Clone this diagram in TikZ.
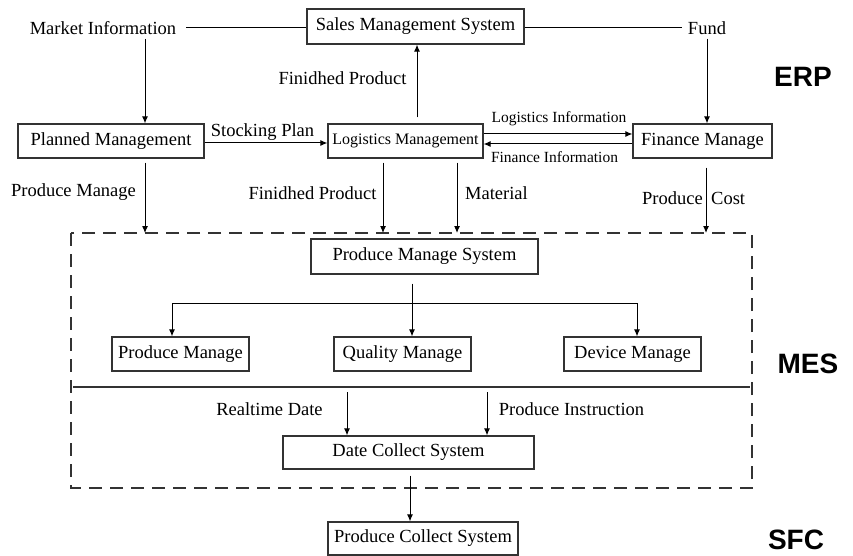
\documentclass[tikz,border=0pt]{standalone}
\usepackage{fontspec}
\setmainfont{Liberation Serif}
\newfontfamily\labsans{Liberation Sans}
\usetikzlibrary{arrows.meta}
\begin{document}
\begin{tikzpicture}[x=1pt,y=-1pt,
  box/.style={draw=black!80,line width=1.2pt,minimum height=34pt,inner sep=0pt,font=\fontsize{18.5}{22}\selectfont},
  lab/.style={inner sep=0pt,font=\fontsize{18.5}{22}\selectfont},
  slab/.style={inner sep=0pt,font=\fontsize{15.5}{18}\selectfont},
  layer/.style={inner sep=0pt,font=\labsans\bfseries\fontsize{28}{32}\selectfont},
  arr/.style={line width=1pt,-{Latex[length=7pt,width=6pt]}},
  ln/.style={line width=1pt},
  mesbox/.style={line width=1.2pt,draw=black!80,dash pattern=on 13pt off 8pt}]
\useasboundingbox (0,0) rectangle (853,556);

% ERP
\node[box,minimum width=217pt,minimum height=35pt] (sales) at (415.5,26.5) {Sales Management System};
\node[lab] (market) at (103,28) {Market Information};
\node[lab] (fund) at (707,28) {Fund};
\node[box,minimum width=186pt] (planned) at (111,141) {Planned Management};
\node[box,minimum width=155pt,font=\fontsize{16}{19}\selectfont] (logis) at (405.5,141) {Logistics Management};
\node[box,minimum width=139pt] (finance) at (702.5,141) {Finance Manage};

\draw[ln] ([xshift=10pt]market.east) -- (sales.west |- market.east);
\draw[ln] (sales.east |- fund.west) -- ([xshift=-6pt]fund.west);
\draw[arr] ([xshift=34pt,yshift=-4pt]planned.north |- market.south) -- ([xshift=34pt]planned.north);
\draw[arr] ([yshift=-4pt]fund.south) -- (fund.south |- finance.north);

\draw[arr] ([xshift=11.5pt,yshift=6pt]logis.north) -- ([xshift=11.5pt]logis.north |- sales.south);
\node[lab] (fp1) at (342.5,78) {Finidhed Product};

\draw[arr] ([yshift=-2pt]planned.east) -- ([yshift=-2pt]planned.east -| logis.west);
\node[lab] (stock) at (262.5,132) {Stocking Plan};

\draw[arr] ([yshift=7pt]logis.east) -- ([yshift=7pt]logis.east -| finance.west);
\draw[arr] ([yshift=-3pt]finance.west) -- ([yshift=-3pt]finance.west -| logis.east);
\node[slab] (li) at (559,119) {Logistics Information};
\node[slab] (fi) at (554.5,157) {Finance Information};

\node[layer] (erp) at (803,77) {ERP};

% MES frame
\coordinate (mtl) at (71,233);
\coordinate (mbr) at (752,488);
\draw[mesbox] (mtl) rectangle (mbr);
\coordinate (dl) at (73,387);
\coordinate (dr) at (750,387);
\draw[line width=1.2pt,draw=black!80] (dl) -- (dr);

\draw[arr] ([xshift=34pt,yshift=-4pt]planned.south) -- ([xshift=34pt]planned.south |- mtl);
\draw[arr] ([xshift=-22.5pt,yshift=-4pt]logis.south) -- ([xshift=-22.5pt]logis.south |- mtl);
\draw[arr] ([xshift=51.5pt,yshift=-4pt]logis.south) -- ([xshift=51.5pt]logis.south |- mtl);
\draw[arr] ([xshift=3.5pt,yshift=-9pt]finance.south) -- ([xshift=3.5pt]finance.south |- mtl);
\node[lab] (pml) at (73.5,192) {Produce Manage};
\node[lab] (fp2) at (312.5,193) {Finidhed Product};
\node[lab] (mat) at (496.5,193) {Material};
\node[lab,anchor=east] (pc1) at (703,198) {Produce};
\node[lab,anchor=west] (pc2) at (711,198) {Cost};

\node[box,minimum width=227pt,minimum height=35pt] (pms) at (424.5,256.5) {Produce Manage System};
\node[box,minimum width=137pt] (pm) at (180.5,354) {Produce Manage};
\node[box,minimum width=137pt] (qm) at (402.5,354) {Quality Manage};
\node[box,minimum width=137pt] (dm) at (632.5,354) {Device Manage};
\coordinate (br) at (412,303);
\draw[arr] ([xshift=-12.5pt,yshift=-9pt]pms.south) -- ([xshift=-12.5pt]pms.south |- qm.north);
\draw[ln] ([xshift=-8.5pt]pm.north |- br) -- ([xshift=4.5pt]dm.north |- br);
\draw[arr] ([xshift=-8.5pt]pm.north |- br) -- ([xshift=-8.5pt]pm.north);
\draw[arr] ([xshift=4.5pt]dm.north |- br) -- ([xshift=4.5pt]dm.north);

\node[layer] (mes) at (808,364) {MES};

\node[box,minimum width=251pt,minimum height=33pt] (dcs) at (408.5,452.5) {Date Collect System};
\draw[arr] ([xshift=-61.5pt,yshift=-5pt]dcs.north |- dl) -- ([xshift=-61.5pt]dcs.north);
\draw[arr] ([xshift=78.5pt,yshift=-5pt]dcs.north |- dl) -- ([xshift=78.5pt]dcs.north);
\node[lab] (rt) at (269.5,409) {Realtime Date};
\node[lab] (pi) at (571.5,409) {Produce Instruction};

% SFC
\node[box,minimum width=190pt,minimum height=33pt] (pcs) at (423,538.5) {Produce Collect System};
\draw[arr] ([xshift=1.5pt,yshift=-6pt]dcs.south) -- ([xshift=1.5pt]dcs.south |- pcs.north);
\node[layer] (sfc) at (796,540) {SFC};
\end{tikzpicture}
\end{document}
